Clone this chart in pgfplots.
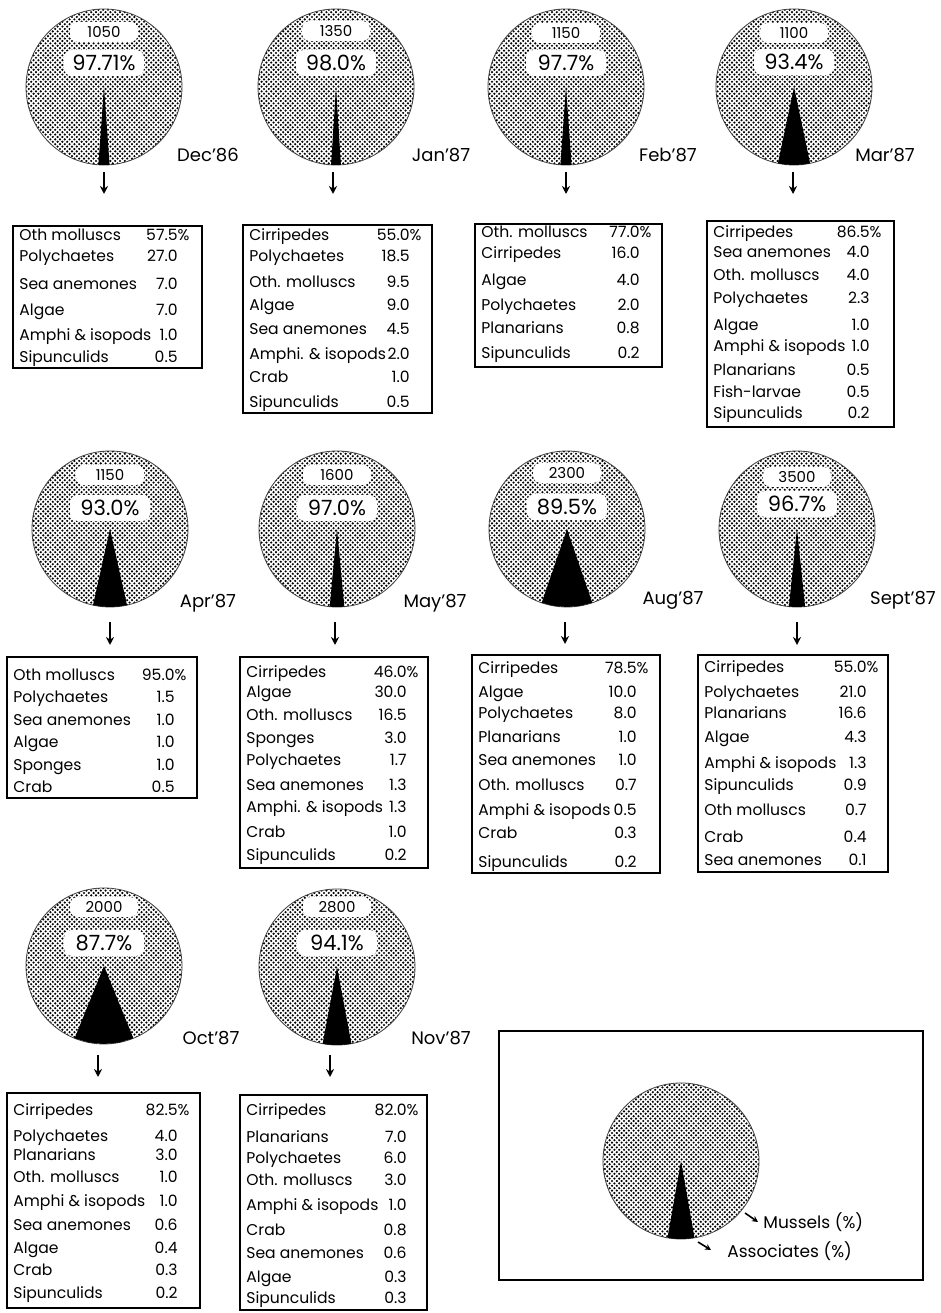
\documentclass[border=0pt]{standalone}
\usepackage{fontspec}
\setmainfont{Poppins}
\usepackage{pgfplots}
\pgfplotsset{compat=1.18}
\usetikzlibrary{patterns,arrows.meta}
\pgfdeclarepatternformonly{stip}{\pgfqpoint{-0.7pt}{-0.7pt}}{\pgfqpoint{1.9pt}{1.9pt}}{\pgfqpoint{2.4pt}{2.4pt}}{%
  \pgfpathcircle{\pgfqpoint{0pt}{0pt}}{0.6pt}%
  \pgfpathcircle{\pgfqpoint{1.2pt}{1.2pt}}{0.6pt}%
  \pgfusepath{fill}}
\tikzset{
  bt/.style={font=\fontsize{7.8}{10}\selectfont, inner sep=0pt, text height=5.5pt, text depth=0pt},
  mon/.style={font=\fontsize{9}{11}\selectfont, inner sep=0pt},
  lsm/.style={font=\fontsize{7.5}{9}\selectfont, inner sep=0pt},
  lbg/.style={font=\fontsize{10.5}{12}\selectfont, inner sep=0pt},
}
\newcommand{\ent}[5]{\node[bt,anchor=west] at (axis cs:#1,#3) {#4};\node[bt,anchor=east] at (axis cs:#2,#3) {#5};}
\newcommand{\bx}[4]{\draw[line width=1pt] (axis cs:#1,#2) rectangle (axis cs:#3,#4);}
\pgfplotsset{wp/.style={fill=white, draw=none, rounded corners=4pt}}
\begin{document}
\begin{tikzpicture}
\begin{axis}[width=470.5pt,height=656.5pt,scale only axis,hide axis,set layers=standard,
  xmin=0,xmax=941,ymin=0,ymax=1313,y dir=reverse,clip=false]
% pies (mussels share)
\addplot[on layer=axis background, mark layer=axis background, only marks, mark=*, mark size=39pt,
  mark options={draw=black!75, line width=0.4pt, pattern=stip, pattern color=black}]
  coordinates {(104,87) (336,87) (566,87) (794,87)
               (110,529) (337,529) (567,529) (797,529)
               (104,966) (337,967) (681,1161)};
% associates wedges
\addplot[fill=black, draw=none] coordinates {(104,87) (98.4,164.8) (104,165) (109.6,164.8)} --cycle;
\addplot[fill=black, draw=none] coordinates {(336,87) (331.1,164.8) (336,165) (340.9,164.8)} --cycle;
\addplot[fill=black, draw=none] coordinates {(566,87) (560.4,164.8) (566,165) (571.6,164.8)} --cycle;
\addplot[fill=black, draw=none] coordinates {(794,87) (777.9,163.3) (785.9,164.6) (794,165) (802.1,164.6) (810.1,163.3)} --cycle;
\addplot[fill=black, draw=none] coordinates {(110,529) (93.0,605.1) (101.4,606.5) (110,607) (118.6,606.5) (127.0,605.1)} --cycle;
\addplot[fill=black, draw=none] coordinates {(337,529) (329.7,606.7) (337,607) (344.3,606.7)} --cycle;
\addplot[fill=black, draw=none] coordinates {(567,529) (541.7,602.8) (554.2,605.9) (567,607) (579.8,605.9) (592.3,602.8)} --cycle;
\addplot[fill=black, draw=none] coordinates {(797,529) (788.9,606.6) (797,607) (805.1,606.6)} --cycle;
\addplot[fill=black, draw=none] coordinates {(104,966) (74.6,1038.3) (89.0,1042.5) (104,1044) (119.0,1042.5) (133.4,1038.3)} --cycle;
\addplot[fill=black, draw=none] coordinates {(337,967) (322.6,1043.7) (329.8,1044.7) (337,1045) (344.2,1044.7) (351.4,1043.7)} --cycle;
\addplot[fill=black, draw=none] coordinates {(681,1161) (667.5,1237.8) (674.2,1238.7) (681,1239) (687.8,1238.7) (694.5,1237.8)} --cycle;
% white label patches (count)
\addplot[wp] coordinates {(70,22) (138,22) (138,42) (70,42)} --cycle;
\addplot[wp] coordinates {(302,21) (370,21) (370,41) (302,41)} --cycle;
\addplot[wp] coordinates {(532,23) (600,23) (600,43) (532,43)} --cycle;
\addplot[wp] coordinates {(760,23) (828,23) (828,43) (760,43)} --cycle;
\addplot[wp] coordinates {(76,465) (144,465) (144,485) (76,485)} --cycle;
\addplot[wp] coordinates {(303,465) (371,465) (371,485) (303,485)} --cycle;
\addplot[wp] coordinates {(533,463) (601,463) (601,483) (533,483)} --cycle;
\addplot[wp] coordinates {(763,467) (831,467) (831,487) (763,487)} --cycle;
\addplot[wp] coordinates {(70,897) (138,897) (138,917) (70,917)} --cycle;
\addplot[wp] coordinates {(303,897) (371,897) (371,917) (303,917)} --cycle;
% white label patches (percentage)
\addplot[wp] coordinates {(64,50) (144,50) (144,76) (64,76)} --cycle;
\addplot[wp] coordinates {(296,50) (376,50) (376,76) (296,76)} --cycle;
\addplot[wp] coordinates {(526,50) (606,50) (606,76) (526,76)} --cycle;
\addplot[wp] coordinates {(754,49) (834,49) (834,75) (754,75)} --cycle;
\addplot[wp] coordinates {(70,495) (150,495) (150,521) (70,521)} --cycle;
\addplot[wp] coordinates {(297,495) (377,495) (377,521) (297,521)} --cycle;
\addplot[wp] coordinates {(527,494) (607,494) (607,520) (527,520)} --cycle;
\addplot[wp] coordinates {(757,491) (837,491) (837,517) (757,517)} --cycle;
\addplot[wp] coordinates {(64,930) (144,930) (144,956) (64,956)} --cycle;
\addplot[wp] coordinates {(297,930) (377,930) (377,956) (297,956)} --cycle;
% arrows
\addplot[-{Stealth[length=4pt,width=4pt]}, line width=1pt] coordinates {(104,172) (104,194)};
\addplot[-{Stealth[length=4pt,width=4pt]}, line width=1pt] coordinates {(333,172) (333,194)};
\addplot[-{Stealth[length=4pt,width=4pt]}, line width=1pt] coordinates {(566,172) (566,194)};
\addplot[-{Stealth[length=4pt,width=4pt]}, line width=1pt] coordinates {(793,172) (793,194)};
\addplot[-{Stealth[length=4pt,width=4pt]}, line width=1pt] coordinates {(110,622) (110,645)};
\addplot[-{Stealth[length=4pt,width=4pt]}, line width=1pt] coordinates {(335,622) (335,645)};
\addplot[-{Stealth[length=4pt,width=4pt]}, line width=1pt] coordinates {(565,622) (565,644)};
\addplot[-{Stealth[length=4pt,width=4pt]}, line width=1pt] coordinates {(797,622) (797,645)};
\addplot[-{Stealth[length=4pt,width=4pt]}, line width=1pt] coordinates {(98,1055) (98,1077)};
\addplot[-{Stealth[length=4pt,width=4pt]}, line width=1pt] coordinates {(330,1055) (330,1077)};
\addplot[-{Stealth[length=3pt,width=3pt]}, line width=0.8pt] coordinates {(745,1213) (758,1222)};
\addplot[-{Stealth[length=3pt,width=3pt]}, line width=0.8pt] coordinates {(698,1242) (711,1250)};
% pie labels
\node[lsm] at (axis cs:104,32) {1050};   \node[lbg] at (axis cs:104,63) {97.71\%};
\node[lsm] at (axis cs:336,31) {1350};   \node[lbg] at (axis cs:336,63) {98.0\%};
\node[lsm] at (axis cs:566,33) {1150};   \node[lbg] at (axis cs:566,63) {97.7\%};
\node[lsm] at (axis cs:794,33) {1100};   \node[lbg] at (axis cs:794,62) {93.4\%};
\node[lsm] at (axis cs:110,475) {1150};  \node[lbg] at (axis cs:110,508) {93.0\%};
\node[lsm] at (axis cs:337,475) {1600};  \node[lbg] at (axis cs:337,508) {97.0\%};
\node[lsm] at (axis cs:567,473) {2300};  \node[lbg] at (axis cs:567,507) {89.5\%};
\node[lsm] at (axis cs:797,477) {3500};  \node[lbg] at (axis cs:797,504) {96.7\%};
\node[lsm] at (axis cs:104,907) {2000};  \node[lbg] at (axis cs:104,943) {87.7\%};
\node[lsm] at (axis cs:337,907) {2800};  \node[lbg] at (axis cs:337,943) {94.1\%};
% month labels
\node[mon] at (axis cs:208,155) {Dec'86};
\node[mon] at (axis cs:441,155) {Jan'87};
\node[mon] at (axis cs:668,155) {Feb'87};
\node[mon] at (axis cs:885,155) {Mar'87};
\node[mon] at (axis cs:208,603) {Apr'87};
\node[mon] at (axis cs:435,603) {May'87};
\node[mon] at (axis cs:673,600) {Aug'87};
\node[mon] at (axis cs:903,600) {Sept'87};
\node[mon] at (axis cs:211,1038) {Oct'87};
\node[mon] at (axis cs:441,1038) {Nov'87};
% Dec'86 box
\bx{13}{226}{202}{368}
\ent{19}{178}{235}{Oth molluscs}{57.5\rlap{\%}}
\ent{19}{178}{256}{Polychaetes}{27.0}
\ent{19}{178}{284}{Sea anemones}{7.0}
\ent{19}{178}{310}{Algae}{7.0}
\ent{19}{178}{335}{Amphi \& isopods}{1.0}
\ent{19}{178}{357}{Sipunculids}{0.5}
% Jan'87 box
\bx{243}{225}{432}{413}
\ent{249}{410}{235}{Cirripedes}{55.0\rlap{\%}}
\ent{249}{410}{256}{Polychaetes}{18.5}
\ent{249}{410}{282}{Oth. molluscs}{9.5}
\ent{249}{410}{305}{Algae}{9.0}
\ent{249}{410}{329}{Sea anemones}{4.5}
\ent{249}{410}{354}{Amphi. \& isopods}{2.0}
\ent{249}{410}{377}{Crab}{1.0}
\ent{249}{410}{402}{Sipunculids}{0.5}
% Feb'87 box
\bx{475}{224}{662}{367}
\ent{481}{640}{232}{Oth. molluscs}{77.0\rlap{\%}}
\ent{481}{640}{253}{Cirripedes}{16.0}
\ent{481}{640}{280}{Algae}{4.0}
\ent{481}{640}{305}{Polychaetes}{2.0}
\ent{481}{640}{328}{Planarians}{0.8}
\ent{481}{640}{353}{Sipunculids}{0.2}
% Mar'87 box
\bx{707}{221}{894}{427}
\ent{713}{870}{232}{Cirripedes}{86.5\rlap{\%}}
\ent{713}{870}{252}{Sea anemones}{4.0}
\ent{713}{870}{275}{Oth. molluscs}{4.0}
\ent{713}{870}{298}{Polychaetes}{2.3}
\ent{713}{870}{325}{Algae}{1.0}
\ent{713}{870}{346}{Amphi \& isopods}{1.0}
\ent{713}{870}{370}{Planarians}{0.5}
\ent{713}{870}{392}{Fish-larvae}{0.5}
\ent{713}{870}{413}{Sipunculids}{0.2}
% Apr'87 box
\bx{7}{657}{197}{798}
\ent{13}{175}{675}{Oth molluscs}{95.0\rlap{\%}}
\ent{13}{175}{697}{Polychaetes}{1.5}
\ent{13}{175}{720}{Sea anemones}{1.0}
\ent{13}{175}{742}{Algae}{1.0}
\ent{13}{175}{765}{Sponges}{1.0}
\ent{13}{175}{787}{Crab}{0.5}
% May'87 box
\bx{240}{657}{428}{868}
\ent{246}{407}{672}{Cirripedes}{46.0\rlap{\%}}
\ent{246}{407}{692}{Algae}{30.0}
\ent{246}{407}{715}{Oth. molluscs}{16.5}
\ent{246}{407}{738}{Sponges}{3.0}
\ent{246}{407}{760}{Polychaetes}{1.7}
\ent{246}{407}{785}{Sea anemones}{1.3}
\ent{246}{407}{807}{Amphi. \& isopods}{1.3}
\ent{246}{407}{832}{Crab}{1.0}
\ent{246}{407}{855}{Sipunculids}{0.2}
% Aug'87 box
\bx{472}{655}{660}{873}
\ent{478}{637}{668}{Cirripedes}{78.5\rlap{\%}}
\ent{478}{637}{692}{Algae}{10.0}
\ent{478}{637}{713}{Polychaetes}{8.0}
\ent{478}{637}{737}{Planarians}{1.0}
\ent{478}{637}{760}{Sea anemones}{1.0}
\ent{478}{637}{785}{Oth. molluscs}{0.7}
\ent{478}{637}{810}{Amphi \& isopods}{0.5}
\ent{478}{637}{833}{Crab}{0.3}
\ent{478}{637}{862}{Sipunculids}{0.2}
% Sept'87 box
\bx{698}{655}{888}{872}
\ent{704}{867}{667}{Cirripedes}{55.0\rlap{\%}}
\ent{704}{867}{692}{Polychaetes}{21.0}
\ent{704}{867}{713}{Planarians}{16.6}
\ent{704}{867}{737}{Algae}{4.3}
\ent{704}{867}{763}{Amphi \& isopods}{1.3}
\ent{704}{867}{785}{Sipunculids}{0.9}
\ent{704}{867}{810}{Oth molluscs}{0.7}
\ent{704}{867}{837}{Crab}{0.4}
\ent{704}{867}{860}{Sea anemones}{0.1}
% Oct'87 box
\bx{7}{1093}{200}{1308}
\ent{13}{178}{1110}{Cirripedes}{82.5\rlap{\%}}
\ent{13}{178}{1136}{Polychaetes}{4.0}
\ent{13}{178}{1155}{Planarians}{3.0}
\ent{13}{178}{1177}{Oth. molluscs}{1.0}
\ent{13}{178}{1201}{Amphi \& isopods}{1.0}
\ent{13}{178}{1225}{Sea anemones}{0.6}
\ent{13}{178}{1248}{Algae}{0.4}
\ent{13}{178}{1270}{Crab}{0.3}
\ent{13}{178}{1293}{Sipunculids}{0.2}
% Nov'87 box
\bx{240}{1095}{427}{1310}
\ent{246}{407}{1110}{Cirripedes}{82.0\rlap{\%}}
\ent{246}{407}{1137}{Planarians}{7.0}
\ent{246}{407}{1158}{Polychaetes}{6.0}
\ent{246}{407}{1180}{Oth. molluscs}{3.0}
\ent{246}{407}{1205}{Amphi \& isopods}{1.0}
\ent{246}{407}{1230}{Crab}{0.8}
\ent{246}{407}{1253}{Sea anemones}{0.6}
\ent{246}{407}{1277}{Algae}{0.3}
\ent{246}{407}{1298}{Sipunculids}{0.3}
% legend box
\bx{499}{1031}{923}{1280}
\node[font=\fontsize{8.5}{10}\selectfont, anchor=west, inner sep=0pt] at (axis cs:763,1222) {Mussels (\%)};
\node[font=\fontsize{8.5}{10}\selectfont, anchor=west, inner sep=0pt] at (axis cs:727,1251) {Associates (\%)};
\end{axis}
\pgfresetboundingbox
\path[use as bounding box] (current axis.south west) rectangle (current axis.north east);
\end{tikzpicture}
\end{document}
